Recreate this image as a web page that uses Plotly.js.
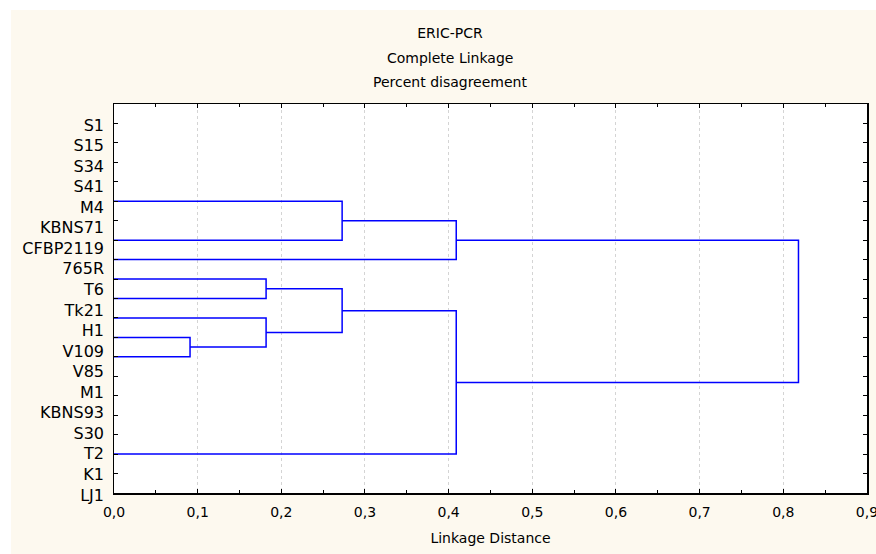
<!DOCTYPE html>
<html>
<head>
<meta charset="utf-8">
<script src="https://cdn.plot.ly/plotly-3.0.1.min.js"></script>
<style>html,body{margin:0;padding:0;background:#fff;}#chart{width:876px;height:554px;}</style>
</head>
<body>
<div id="chart"></div>
<script>
// ---- data ----
const titleLines = ['ERIC-PCR', 'Complete Linkage', 'Percent disagreement'];
const xTitle = 'Linkage Distance';
const leafLabels = ['S1','S15','S34','S41','M4','KBNS71','CFBP2119','765R','T6','Tk21','H1','V109','V85','M1','KBNS93','S30','T2','K1','LJ1'];
// merges: children are leaf positions ('L#') or earlier merges ('M#')
const mergeLeft   = ['L4','M0','L11','L8','L10','M3','M5','M1'];
const mergeRight  = ['L6','L7','L12','L9','M2','M4','L17','M6'];
const mergeHeight = [0.2727, 0.4091, 0.0909, 0.1818, 0.1818, 0.2727, 0.4091, 0.8182];

// ---- build dendrogram path ----
const mergeMid = [];
function nodeOf(ref){
  const k = +ref.slice(1);
  if (ref[0] === 'L') return {x: 0, y: k};
  return {x: mergeHeight[k], y: mergeMid[k]};
}
const lx = [], ly = [];
mergeHeight.forEach((h, i) => {
  const a = nodeOf(mergeLeft[i]), b = nodeOf(mergeRight[i]);
  lx.push(a.x, h, h, b.x, null);
  ly.push(a.y, a.y, b.y, b.y, null);
  mergeMid.push((a.y + b.y) / 2);
});

const FONT = 'DejaVu Sans';
const CREAM = '#FDF9EF';
const W = 876, H = 554;
const mL = 114, mR = 9, mT = 84, mB = 41;
const pw = W - mL - mR, ph = H - mT - mB;
const px = v => (v - mL) / pw;      // pixel -> paper x
const py = v => (H - mB - v) / ph;  // pixel -> paper y

const traces = [
  {
    type: 'scatter', mode: 'lines', x: lx, y: ly, xaxis: 'x', yaxis: 'y',
    line: {color: '#0000FF', width: 1.5}, hoverinfo: 'skip', cliponaxis: false, showlegend: false
  },
  {
    type: 'scatter', mode: 'markers', x: leafLabels.map(() => 0), y: leafLabels,
    xaxis: 'x2', yaxis: 'y2', marker: {opacity: 0}, hoverinfo: 'skip', showlegend: false
  }
];

const layout = {
  width: W, height: H,
  margin: {l: mL, r: mR, t: mT, b: mB},
  paper_bgcolor: CREAM, plot_bgcolor: 'rgba(0,0,0,0)',
  separators: ', ',
  showlegend: false,
  font: {family: FONT, color: '#000'},
  title: {
    text: titleLines[0], font: {family: FONT, size: 14, color: '#000'},
    xref: 'paper', x: px(450), xanchor: 'center',
    yref: 'container', y: 1 - 33 / H, yanchor: 'middle'
  },
  annotations: titleLines.slice(1).map((t, i) => ({
    text: t, xref: 'paper', yref: 'paper', x: px(450), y: py(57.7 + 24 * i),
    xanchor: 'center', yanchor: 'middle', showarrow: false,
    font: {family: FONT, size: 14, color: '#000'}
  })),
  xaxis: {
    range: [0, 0.9001], dtick: 0.1, tick0: 0, tickformat: '.1f',
    ticks: 'inside', ticklen: 4, tickwidth: 1, tickcolor: '#000',
    showline: true, linecolor: '#000', linewidth: 1.5, mirror: 'ticks',
    showgrid: true, gridcolor: '#d4d4d4', griddash: 'dot', gridwidth: 1,
    zeroline: false, automargin: false, fixedrange: true,
    minor: {dtick: 0.05, ticks: 'inside', ticklen: 3, tickcolor: '#000', showgrid: false},
    tickfont: {family: FONT, size: 14, color: '#000'},
    ticklabelstandoff: 6, ticklabeloverflow: 'allow',
    title: {text: xTitle, font: {family: FONT, size: 14, color: '#000'}, standoff: 14},
    anchor: 'y'
  },
  yaxis: {
    domain: [py(493), py(104)],
    range: [leafLabels.length, -1],
    tickmode: 'linear', tick0: 0, dtick: 1,
    ticks: 'inside', ticklen: 4, tickwidth: 1, tickcolor: '#000',
    showticklabels: false,
    showline: true, linecolor: '#000', linewidth: 1.5, mirror: 'ticks',
    showgrid: false, zeroline: false, automargin: false, fixedrange: true,
    anchor: 'x'
  },
  xaxis2: {domain: [0, 1], range: [0, 1], visible: false, anchor: 'y2', fixedrange: true},
  yaxis2: {
    domain: [0, 1], anchor: 'x2', type: 'category',
    categoryorder: 'array', categoryarray: leafLabels,
    range: [-1.995 + ph / 20.55, -1.995],
    showline: false, ticks: '', showgrid: false, zeroline: false,
    tickfont: {family: FONT, size: 16, color: '#000'},
    ticklabelstandoff: 9, automargin: false, fixedrange: true
  },
  shapes: [
    {type: 'rect', xref: 'x domain', yref: 'y domain', x0: 0, x1: 1, y0: 0, y1: 1,
     fillcolor: '#FFFFFF', line: {width: 0}, layer: 'below'},
    {type: 'rect', xref: 'paper', yref: 'paper', x0: px(0), x1: px(11), y0: py(H), y1: py(0),
     fillcolor: '#FFFFFF', line: {width: 0}, layer: 'below'},
    {type: 'rect', xref: 'paper', yref: 'paper', x0: px(0), x1: px(W), y0: py(10), y1: py(0),
     fillcolor: '#FFFFFF', line: {width: 0}, layer: 'below'}
  ]
};

Plotly.newPlot('chart', traces, layout, {displayModeBar: false, staticPlot: true});
</script>
</body>
</html>
